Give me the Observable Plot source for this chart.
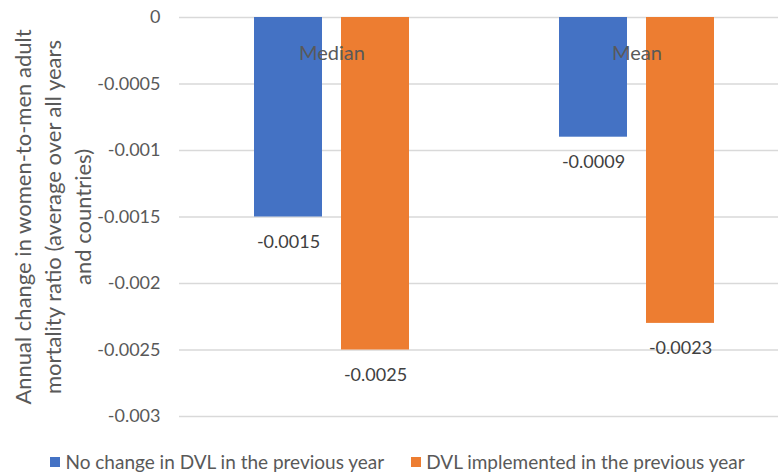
<!DOCTYPE html>
<html>
<head>
<meta charset="utf-8">
<script src="https://cdn.jsdelivr.net/npm/d3@7"></script>
<script src="https://cdn.jsdelivr.net/npm/@observablehq/plot@0.6"></script>
<style>
  html, body { margin: 0; padding: 0; background: #fff; }
  #chart { width: 778px; font-family: Lato, "Open Sans", sans-serif; }
  .legend { display: flex; justify-content: center; align-items: center; gap: 27px; height: 24px; margin-top: 20px; padding-left: 17px; font-size: 19px; line-height: 24px; color: #595959; font-family: Lato, sans-serif; }
  .legend div { display: flex; align-items: center; }
  .legend span.sw { display: inline-block; width: 10px; height: 10px; margin-right: 5px; }
</style>
</head>
<body>
<div id="chart"></div>
<script>
const groups = ["Median", "Mean"];
const seriesNames = ["No change in DVL in the previous year", "DVL implemented in the previous year"];
const noChange = [-0.0015, -0.0009];
const implemented = [-0.0025, -0.0023];
const yTicks = [0, -0.0005, -0.001, -0.0015, -0.002, -0.0025, -0.003];
const colors = ["#4472C4", "#ED7D31"];
const yTitle = "Annual change in women-to-men adult\nmortality ratio (average over all years\nand countries)";

const blueData = groups.map((g, i) => ({group: g, value: noChange[i]}));
const orangeData = groups.map((g, i) => ({group: g, value: implemented[i]}));

const plot = Plot.plot({
  width: 778,
  height: 430,
  marginTop: 17,
  marginBottom: 14,
  marginLeft: 179,
  marginRight: 0,
  style: {fontFamily: "Lato, 'Open Sans', sans-serif", background: "#fff", overflow: "visible"},
  x: {type: "band", domain: groups, range: [179, 789], padding: 0, axis: null},
  y: {domain: [-0.003, 0], axis: null},
  marks: [
    Plot.ruleY(yTicks, {stroke: "#d9d9d9", strokeWidth: 1.3}),
    Plot.axisY({ticks: yTicks, tickSize: 0, tickPadding: 19, tickFormat: d => String(d), fontSize: 18, color: "#595959", label: null}),
    Plot.barY(blueData, {x: "group", y: "value", fill: colors[0], insetLeft: 75, insetRight: 162}),
    Plot.barY(orangeData, {x: "group", y: "value", fill: colors[1], insetLeft: 162, insetRight: 75}),
    Plot.text(groups, {x: d => d, frameAnchor: "top", dy: 28, text: d => d, fontSize: 20, fill: "#595959"}),
    Plot.text(blueData, {x: "group", y: "value", dx: -43.5, dy: 25, text: d => String(d.value), fontSize: 18, fill: "#404040"}),
    Plot.text(orangeData, {x: "group", y: "value", dx: 43.5, dy: 25, text: d => String(d.value), fontSize: 18, fill: "#404040"}),
    Plot.text([yTitle], {frameAnchor: "left", dx: -128, rotate: -90, text: d => d, lineHeight: 1.36, fontSize: 22, fill: "#595959", textAnchor: "middle", lineAnchor: "middle"})
  ]
});

const chart = document.getElementById("chart");
chart.appendChild(plot);

const legend = document.createElement("div");
legend.className = "legend";
seriesNames.forEach((name, i) => {
  const item = document.createElement("div");
  const sw = document.createElement("span");
  sw.className = "sw";
  sw.style.background = colors[i];
  item.appendChild(sw);
  item.appendChild(document.createTextNode(name));
  legend.appendChild(item);
});
chart.appendChild(legend);
</script>
</body>
</html>
